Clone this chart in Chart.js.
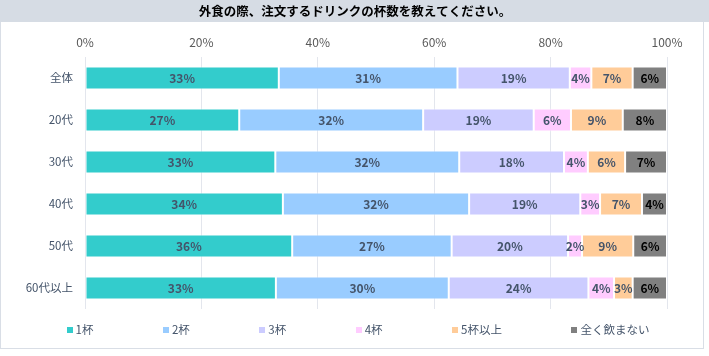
<!DOCTYPE html>
<html><head><meta charset="utf-8">
<script src="https://cdn.jsdelivr.net/npm/chart.js@4/dist/chart.umd.min.js"></script>
<style>html,body{margin:0;padding:0;background:#fff;}#wrap{width:709px;height:356px;position:relative;}canvas{display:block;}</style>
</head><body><div id="wrap"><canvas id="c" width="709" height="356"></canvas></div>
<script>
const chartTitle = '外食の際、注文するドリンクの杯数を教えてください。';
const categories = ['全体','20代','30代','40代','50代','60代以上'];
const seriesNames = ['1杯','2杯','3杯','4杯','5杯以上','全く飲まない'];
const cup1 = [33.3,26.5,32.7,34.0,35.6,32.8];
const cup2 = [30.7,31.6,31.6,32.0,27.4,29.7];
const cup3 = [19.3,19.0,18.0,19.1,20.0,24.0];
const cup4 = [3.7,6.4,4.1,3.4,2.4,4.4];
const cup5plus = [7.1,8.9,6.4,7.2,8.8,3.2];
const noDrink = [5.9,7.6,7.2,4.3,5.8,5.9];
const xTickValues = [0,20,40,60,80,100];
const seriesColors = ['#33CCCC','#99CCFF','#CCCCFF','#FFCCFF','#FFCC99','#808080'];

const FONT = '"Noto Sans CJK JP","Noto Sans",sans-serif';
const seriesValues = [cup1,cup2,cup3,cup4,cup5plus,noDrink];

const frame = {
  id:'frame',
  beforeDraw(chart){
    const ctx = chart.ctx;
    ctx.save();
    ctx.fillStyle = '#ffffff';
    ctx.fillRect(0,0,chart.width,chart.height);
    ctx.strokeStyle = '#d9dee6';
    ctx.lineWidth = 1;
    ctx.strokeRect(0.5,0.5,703,348);
    ctx.fillStyle = '#d6dce4';
    ctx.fillRect(0,0,chart.width,22);
    ctx.fillStyle = '#000000';
    ctx.font = 'bold 12.5px ' + FONT;
    ctx.textAlign = 'center';
    ctx.textBaseline = 'middle';
    ctx.fillText(chartTitle, 355, 11.5);
    ctx.restore();
  }
};

const barLabels = {
  id:'barLabels',
  afterDatasetsDraw(chart){
    const ctx = chart.ctx;
    ctx.save();
    ctx.font = 'bold 12px ' + FONT;
    ctx.textAlign = 'center';
    ctx.textBaseline = 'middle';
    chart.data.datasets.forEach((ds,i)=>{
      const meta = chart.getDatasetMeta(i);
      ctx.fillStyle = i === chart.data.datasets.length-1 ? '#000000' : '#44546A';
      meta.data.forEach((el,j)=>{
        const p = el.getProps(['x','base','y'], true);
        ctx.fillText(Math.round(ds.data[j]) + '%', (p.x + p.base)/2, p.y + 0.5);
      });
    });
    ctx.restore();
  }
};

const customLegend = {
  id:'customLegend',
  afterDraw(chart){
    const ctx = chart.ctx;
    ctx.save();
    ctx.font = '11.5px ' + FONT;
    ctx.textBaseline = 'middle';
    ctx.textAlign = 'left';
    const box = 6, gapText = 3, gapItem = 69.5;
    const ds = chart.data.datasets;
    const widths = ds.map(d => box + gapText + ctx.measureText(d.label).width);
    const total = widths.reduce((a,b)=>a+b,0) + gapItem*(ds.length-1);
    let x = 358 - total/2;
    const y = 330;
    ds.forEach((d,i)=>{
      ctx.fillStyle = d.backgroundColor;
      ctx.fillRect(Math.round(x), y-3, box, box);
      ctx.fillStyle = '#44546A';
      ctx.fillText(d.label, x + box + gapText, y);
      x += widths[i] + gapItem;
    });
    ctx.restore();
  }
};

new Chart(document.getElementById('c'), {
  type:'bar',
  data:{
    labels: categories,
    datasets: seriesNames.map((name,i)=>({
      label: name,
      data: seriesValues[i],
      backgroundColor: seriesColors[i],
      borderColor: 'rgba(255,255,255,0.55)',
      borderWidth: 1,
      borderSkipped: false,
      categoryPercentage: 0.55,
      barPercentage: 1.0
    }))
  },
  options:{
    indexAxis:'y',
    responsive:false,
    animation:false,
    devicePixelRatio:1,
    layout:{padding:{top:35,left:5,right:42,bottom:47}},
    plugins:{legend:{display:false},title:{display:false},tooltip:{enabled:false}},
    scales:{
      x:{
        position:'top', stacked:true, min:0, max:100,
        afterBuildTicks(scale){ scale.ticks = xTickValues.map(v=>({value:v})); },
        afterFit(scale){ scale.height = 22; },
        ticks:{ callback:v=>v+'%', color:'#595959', font:{family:FONT,size:12}, padding:7 },
        grid:{ color:'#e3e6ed', lineWidth:1, drawTicks:false },
        border:{ display:false }
      },
      y:{
        stacked:true,
        afterFit(scale){ scale.width = 80; },
        ticks:{ color:'#44546A', font:{family:FONT,size:11.5}, padding:12 },
        grid:{ display:false, drawTicks:false },
        border:{ display:false }
      }
    }
  },
  plugins:[frame, barLabels, customLegend]
});
</script>
</body></html>
